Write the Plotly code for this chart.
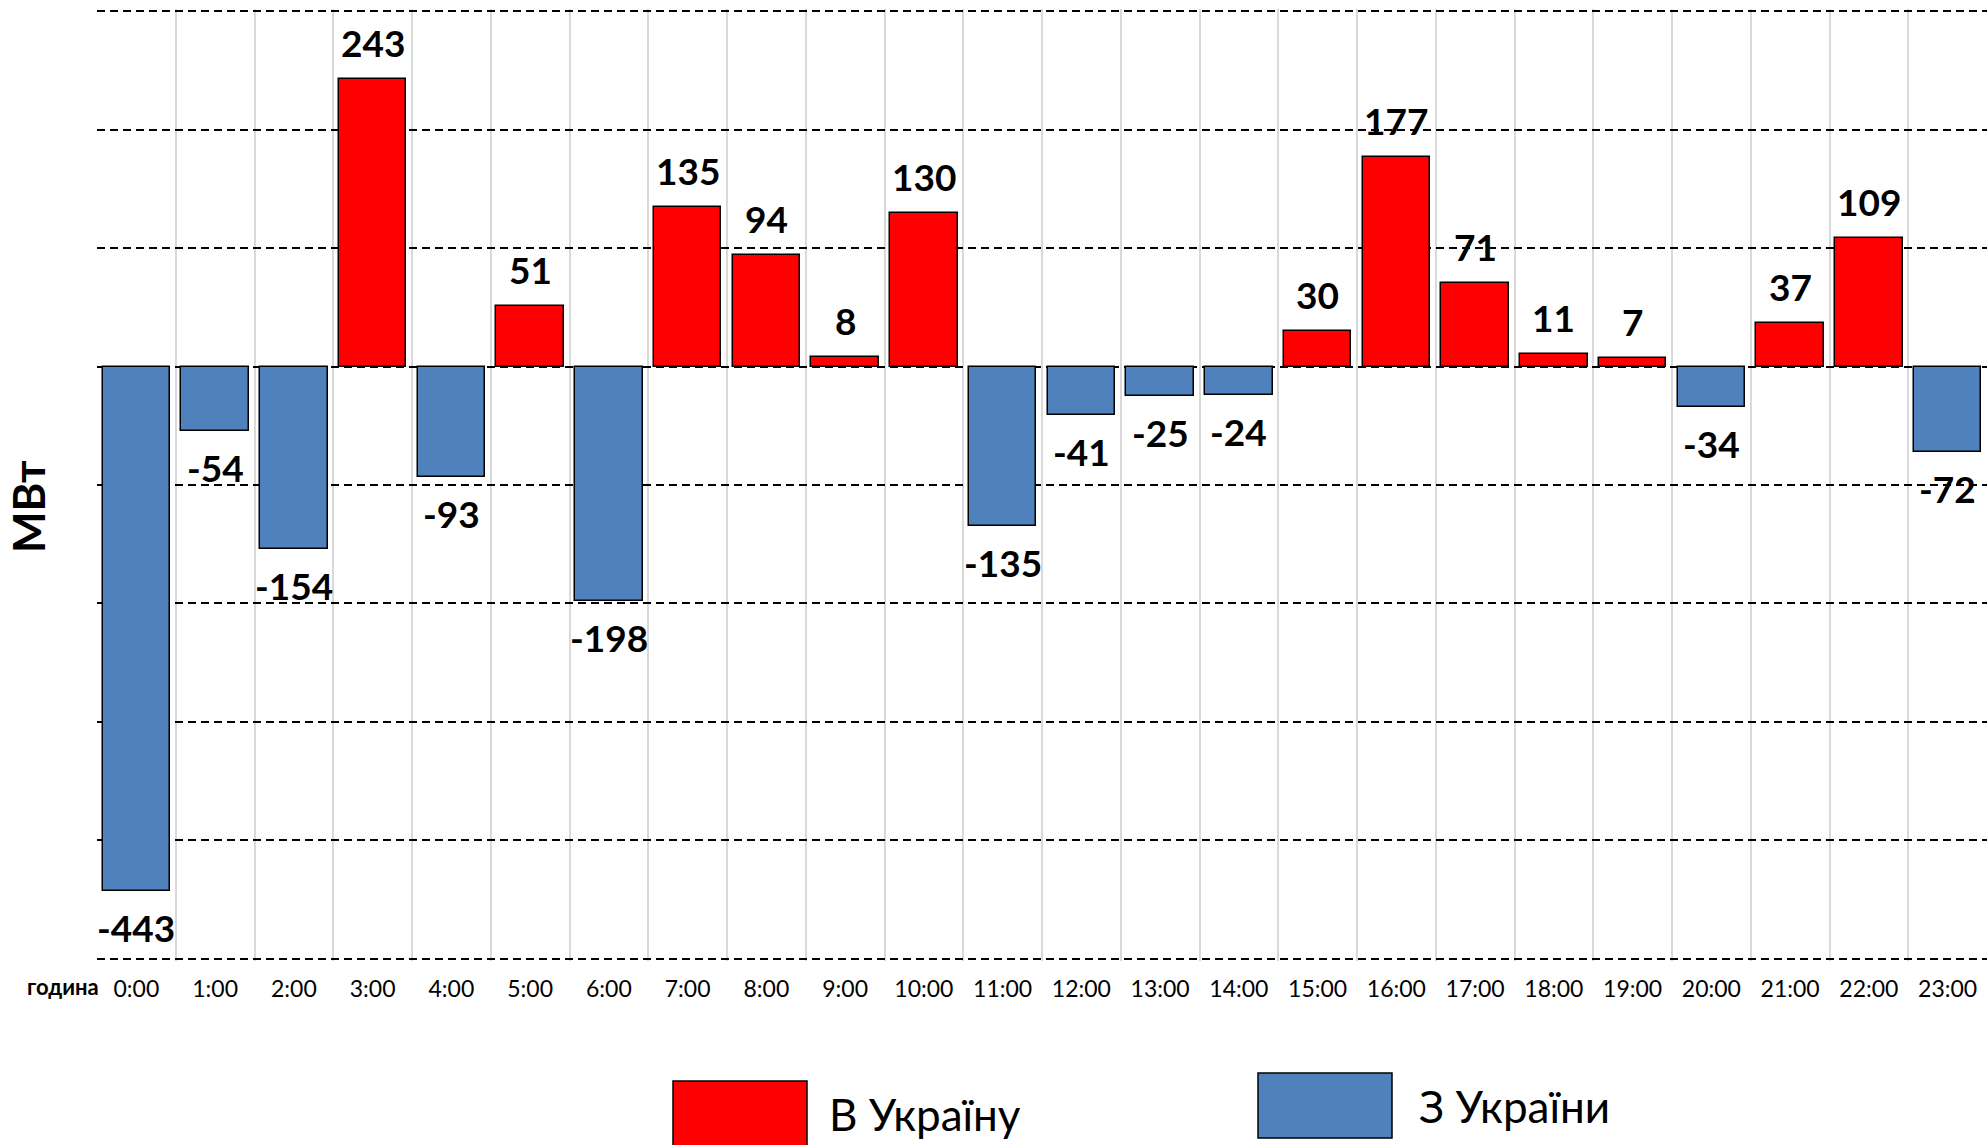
import plotly.graph_objects as go

hours = list(range(24))
hour_labels = [f"{h}:00" for h in hours]
net_flow = [-443, -54, -154, 243, -93, 51, -198, 135, 94, 8, 130, -135,
            -41, -25, -24, 30, 177, 71, 11, 7, -34, 37, 109, -72]
to_ukraine = [v if v > 0 else None for v in net_flow]
from_ukraine = [v if v < 0 else None for v in net_flow]
y_ticks = list(range(-500, 301, 100))

RED = "#FF0000"
BLUE = "#4F81BD"
FONT = "Lato"

fig = go.Figure()
for vals, color, name in [(to_ukraine, RED, "В Україну"), (from_ukraine, BLUE, "З України")]:
    fig.add_trace(go.Bar(
        x=hours, y=vals, name=name, width=0.86,
        marker=dict(color=color, line=dict(color="black", width=1.5)),
        showlegend=False,
    ))

# data labels
for h, v in zip(hours, net_flow):
    fig.add_annotation(x=h, y=v, text=f"<b>{v}</b>", showarrow=False,
                       yanchor="bottom" if v > 0 else "top",
                       yshift=12 if v > 0 else -12,
                       font=dict(family=FONT, size=37, color="black"))

W, H = 1987, 1145
ML, MR, MT, MB = 97, 0, 9, 184
fig.update_layout(
    width=W, height=H,
    margin=dict(l=ML, r=MR, t=MT, b=MB),
    plot_bgcolor="white", paper_bgcolor="white",
    barmode="overlay", bargap=0,
    font=dict(family=FONT, color="black"),
    xaxis=dict(
        range=[-0.5, 23.5], tickvals=hours, ticktext=hour_labels,
        showgrid=False, zeroline=False, showline=False, automargin=False,
        tickfont=dict(family=FONT, size=23, color="black"),
        ticks="", ticklabelstandoff=12,
        minor=dict(tick0=-0.5, dtick=1, showgrid=True, gridcolor="#d9d9d9", gridwidth=2),
    ),
    yaxis=dict(
        range=[-502, 302], tickvals=y_ticks, showticklabels=False,
        showgrid=True, gridcolor="black", gridwidth=1.5, griddash="8px,5px",
        zeroline=False, showline=False, automargin=False,
    ),
)

pw, ph = W - ML - MR, H - MT - MB

def px(x):
    return (x - ML) / pw

def py(y):
    return (H - MB - y) / ph

# axis titles
fig.add_annotation(xref="paper", yref="paper", x=px(28), y=py(507), xanchor="center", yanchor="middle",
                   textangle=-90, text="<b>МВт</b>", showarrow=False,
                   font=dict(family=FONT, size=44, color="black"))
fig.add_annotation(xref="paper", yref="paper", x=0, y=-0.027, xanchor="right", yanchor="middle", xshift=4,
                   text="<b>година</b>", showarrow=False, font=dict(family=FONT, size=22, color="black"))

# custom legend (pixel positions converted to paper coordinates)
legend_items = [("В Україну", RED, 673, 807, 1081, 1150, 827, 1114),
                ("З України", BLUE, 1258, 1392, 1073, 1138, 1417, 1106)]
for name, color, x0, x1, y0, y1, tx, ty in legend_items:
    fig.add_shape(type="rect", xref="paper", yref="paper",
                  x0=px(x0), x1=px(x1), y0=py(y1), y1=py(y0),
                  fillcolor=color, line=dict(color="black", width=1.5))
    fig.add_annotation(xref="paper", yref="paper", x=px(tx), y=py(ty),
                       xanchor="left", yanchor="middle", text=name, showarrow=False,
                       font=dict(family=FONT, size=44, color="black"))

fig.write_html("out.html", config={"displayModeBar": False},
               post_script="document.body.style.margin='0';document.body.style.overflow='hidden';")
